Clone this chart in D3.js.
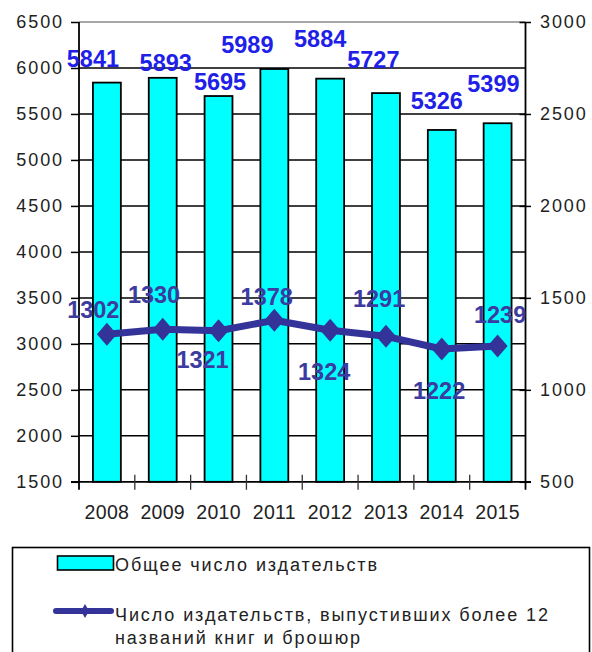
<!DOCTYPE html>
<html>
<head>
<meta charset="utf-8">
<script src="https://cdn.jsdelivr.net/npm/d3@7/dist/d3.min.js"></script>
<style>
  html, body { margin: 0; padding: 0; background: #fff; }
  svg { display: block; }
  text { font-family: "Liberation Sans", Arial, sans-serif; }
</style>
</head>
<body>
<svg id="chart" width="592" height="652"></svg>
<script>
// ---- data ----
const years = ["2008", "2009", "2010", "2011", "2012", "2013", "2014", "2015"];
const totalPublishers = [5841, 5893, 5695, 5989, 5884, 5727, 5326, 5399];
const activePublishers = [1302, 1330, 1321, 1378, 1324, 1291, 1222, 1239];
const leftTicks = [1500, 2000, 2500, 3000, 3500, 4000, 4500, 5000, 5500, 6000, 6500];
const rightTicks = [500, 1000, 1500, 2000, 2500, 3000];
const legendBar = "Общее число издательств";
const legendLine1 = "Число издательств, выпустивших более 12";
const legendLine2 = "названий книг и брошюр";

// ---- layout (label nudges, px) ----
const barLabelNudge = [[-14, -15.6], [3, -6.8], [1.5, -6], [-27, -16.3], [-10, -32], [-12.6, -24.8], [-5, -20.6], [-4.2, -31.5]];
const lineLabelNudge = [[-13.6, -15.8], [-8.7, -25.7], [-16, 36.7], [-7.6, -15.2], [-6, 49.8], [-6.9, -29.5], [-2.7, 50.4], [2.5, -23.1]];

const L = 79, R = 525.5, T = 22, B = 481.8;
const svg = d3.select("#chart");

const x = d3.scaleBand().domain(years).range([L, R]).paddingInner(0.5).paddingOuter(0.25);
const yL = d3.scaleLinear().domain([1500, 6500]).range([B, T]);
const yR = d3.scaleLinear().domain([500, 3000]).range([B, T]);
const step = x.step();

// gridlines
svg.append("g").selectAll("line").data(leftTicks.filter(v => v > 1500)).join("line")
  .attr("x1", L).attr("x2", R)
  .attr("y1", d => yL(d)).attr("y2", d => yL(d))
  .attr("stroke", d => d === 6500 ? "#8a8a8a" : "#000")
  .attr("stroke-width", 1.5);

// bars
svg.append("g").selectAll("rect").data(totalPublishers).join("rect")
  .attr("x", (d, i) => x(years[i]))
  .attr("y", d => yL(d))
  .attr("width", x.bandwidth())
  .attr("height", d => yL(1500) - yL(d))
  .attr("fill", "#00FFFF")
  .attr("stroke", "#000")
  .attr("stroke-width", 1.8);

// left axis
const gL = svg.append("g").attr("transform", `translate(${L},0)`)
  .call(d3.axisLeft(yL).tickValues(leftTicks).tickSize(8).tickPadding(7).tickFormat(d3.format("d")));
gL.select(".domain").remove();
gL.selectAll(".tick line").attr("stroke", "#000").attr("stroke-width", 1.5);
gL.selectAll(".tick text").attr("font-size", 18).attr("fill", "#222")
  .attr("letter-spacing", 1.9).attr("font-family", "Liberation Sans, Arial, sans-serif");

// right axis
const gR = svg.append("g").attr("transform", `translate(${R},0)`)
  .call(d3.axisRight(yR).tickValues(rightTicks).tickSize(5.5).tickPadding(9).tickFormat(d3.format("d")));
gR.select(".domain").remove();
gR.selectAll(".tick line").attr("stroke", "#000").attr("stroke-width", 1.5).attr("x1", -6);
gR.selectAll(".tick text").attr("font-size", 18).attr("fill", "#222")
  .attr("letter-spacing", 1.9).attr("font-family", "Liberation Sans, Arial, sans-serif");

// axis lines
svg.append("line").attr("x1", L).attr("x2", L).attr("y1", T).attr("y2", B + 8).attr("stroke", "#000").attr("stroke-width", 1.8);
svg.append("line").attr("x1", R).attr("x2", R).attr("y1", T).attr("y2", B + 8).attr("stroke", "#000").attr("stroke-width", 1.8);
svg.append("line").attr("x1", L - 8).attr("x2", R + 5.5).attr("y1", B).attr("y2", B).attr("stroke", "#000").attr("stroke-width", 1.8);

// bottom axis: boundary ticks + labels
const gB = svg.append("g").attr("transform", `translate(0,${B})`)
  .call(d3.axisBottom(x).tickSize(0).tickPadding(23));
gB.select(".domain").remove();
gB.selectAll(".tick text").attr("font-size", 19.5).attr("fill", "#222")
  .attr("letter-spacing", 0.3).attr("font-family", "Liberation Sans, Arial, sans-serif");
svg.append("g").selectAll("line").data(years.slice(1)).join("line")
  .attr("x1", d => x(d) - step * 0.25).attr("x2", d => x(d) - step * 0.25)
  .attr("y1", B - 7).attr("y2", B + 8)
  .attr("stroke", "#333").attr("stroke-width", 1.3);

// line series
const cx = i => x(years[i]) + x.bandwidth() / 2;
const line = d3.line().x((d, i) => cx(i)).y(d => yR(d));
svg.append("path").datum(activePublishers)
  .attr("d", line)
  .attr("fill", "none")
  .attr("stroke", "#333399")
  .attr("stroke-width", 7)
  .attr("stroke-linecap", "round")
  .attr("stroke-linejoin", "round");
svg.append("g").selectAll("path").data(activePublishers).join("path")
  .attr("d", (d, i) => {
    const px = cx(i), py = yR(d), w = 10, h = 11.5;
    return `M${px},${py - h}L${px + w},${py}L${px},${py + h}L${px - w},${py}Z`;
  })
  .attr("fill", "#333399");

// bar labels
svg.append("g").selectAll("text").data(totalPublishers).join("text")
  .attr("x", (d, i) => cx(i) + barLabelNudge[i][0])
  .attr("y", (d, i) => yL(d) + barLabelNudge[i][1])
  .attr("text-anchor", "middle")
  .attr("font-size", 23.5).attr("font-weight", "bold")
  .attr("fill", "#1f1fe8")
  .text(d => d);

// line labels
svg.append("g").selectAll("text").data(activePublishers).join("text")
  .attr("x", (d, i) => cx(i) + lineLabelNudge[i][0])
  .attr("y", (d, i) => yR(d) + lineLabelNudge[i][1])
  .attr("text-anchor", "middle")
  .attr("font-size", 23.5).attr("font-weight", "bold")
  .attr("fill", "#3c3ca0")
  .text(d => d);

// legend
const lg = svg.append("g");
lg.append("rect").attr("x", 12.5).attr("y", 547.5).attr("width", 577).attr("height", 130)
  .attr("fill", "#fff").attr("stroke", "#000").attr("stroke-width", 1.6);
lg.append("rect").attr("x", 57.5).attr("y", 556).attr("width", 56).attr("height", 14)
  .attr("fill", "#00FFFF").attr("stroke", "#000").attr("stroke-width", 1.6);
lg.append("text").attr("x", 115).attr("y", 571).attr("font-size", 18).attr("letter-spacing", 1.9)
  .attr("fill", "#222").text(legendBar);
lg.append("line").attr("x1", 56).attr("x2", 111).attr("y1", 611).attr("y2", 611)
  .attr("stroke", "#333399").attr("stroke-width", 6).attr("stroke-linecap", "round");
lg.append("path").attr("d", "M85,604L89,611L85,618L81,611Z").attr("fill", "#333399");
lg.append("text").attr("x", 115).attr("y", 621).attr("font-size", 18).attr("letter-spacing", 1.9)
  .attr("fill", "#222").text(legendLine1);
lg.append("text").attr("x", 115).attr("y", 643.5).attr("font-size", 18).attr("letter-spacing", 1.9)
  .attr("fill", "#222").text(legendLine2);
</script>
</body>
</html>
